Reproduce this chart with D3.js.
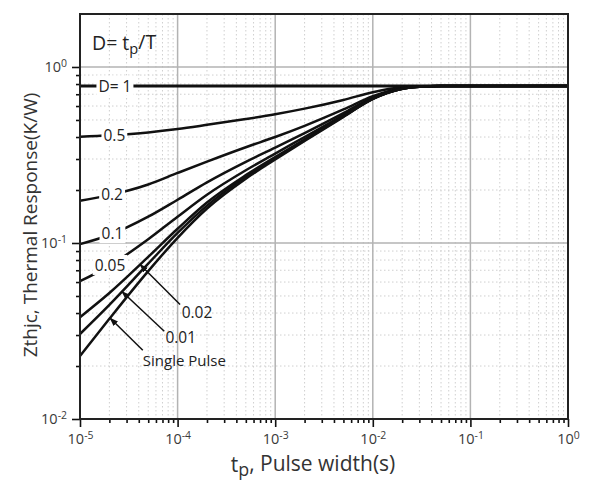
<!DOCTYPE html>
<html>
<head>
<meta charset="utf-8">
<script src="https://cdn.jsdelivr.net/npm/d3@7"></script>
<style>
body{margin:0;background:#fff;}
svg{font-family:"Open Sans",sans-serif;}
</style>
</head>
<body>
<svg id="canvas"></svg>
<script>
let width=592;
let height=485;
let plotLeft=80, plotRight=568, plotTop=14, plotBottom=419;

// pulse width (s) where the curves were read
let pulseWidth=[1e-5,2e-5,5e-5,1e-4,2e-4,5e-4,1e-3,2e-3,5e-3,1e-2,2e-2,3e-2,5e-2,1e-1,1];

// Zthjc (K/W) for every duty cycle
let zD100=[0.78,0.78,0.78,0.78,0.78,0.78,0.78,0.78,0.78,0.78,0.78,0.78,0.78,0.78,0.78];
let zD50=[0.401,0.409,0.425,0.444,0.469,0.506,0.539,0.580,0.650,0.719,0.766,0.777,0.78,0.78,0.78];
let zD20=[0.174,0.187,0.215,0.250,0.290,0.350,0.400,0.463,0.574,0.683,0.758,0.774,0.78,0.78,0.78];
let zD10=[0.0985,0.111,0.141,0.176,0.221,0.289,0.348,0.421,0.547,0.671,0.755,0.774,0.78,0.78,0.78];
let zD05=[0.0607,0.0742,0.105,0.141,0.188,0.259,0.322,0.400,0.533,0.664,0.753,0.773,0.78,0.78,0.78];
let zD02=[0.0379,0.052,0.0834,0.1205,0.170,0.243,0.308,0.388,0.525,0.660,0.753,0.773,0.78,0.78,0.78];
let zD01=[0.0304,0.0445,0.0763,0.114,0.163,0.238,0.303,0.384,0.523,0.659,0.752,0.773,0.78,0.78,0.78];
let zSingle=[0.0228,0.0371,0.0692,0.107,0.157,0.232,0.298,0.380,0.520,0.658,0.752,0.773,0.78,0.78,0.78];

let seriesNames=['D= 1','0.5','0.2','0.1','0.05','0.02','0.01','Single Pulse'];
let seriesValues=[zD100,zD50,zD20,zD10,zD05,zD02,zD01,zSingle];

// inline labels sitting on the curves (pulse width of label centre)
let inlineLabels=['D= 1','0.5','0.2','0.1','0.05'];
let inlineLabelAt=[2.28e-5,2.25e-5,2.13e-5,2.15e-5,2.03e-5];

// labels with leader arrows: tip pulse width, tail [t,z], text [t,z]
let arrowLabels=['0.02','0.01','Single Pulse'];
let arrowTipAt=[4.12e-5,2.69e-5,2.03e-5];
let arrowTail=[[1.06e-4,0.0447],[7.3e-5,0.0315],[4.4e-5,0.0246]];
let arrowText=[[1.1e-4,0.0404],[7.5e-5,0.0292],[4.4e-5,0.0216]];

let xTicks=[1e-5,1e-4,1e-3,1e-2,1e-1,1];
let yTicks=[0.01,0.1,1];

let canvas=d3.select('#canvas')
canvas.attr('width',width)
canvas.attr('height',height)

let xScale=d3.scaleLog()
.domain([1e-5,1])
.range([plotLeft,plotRight])

let yScale=d3.scaleLog()
.domain([0.01,2])
.range([plotBottom,plotTop])

let minorOf=(majors,maxV)=>{
    let out=[]
    majors.forEach((m)=>{
        for(let k=2;k<=9;k++){
            if(m*k<maxV*0.999) out.push(m*k)
        }
    })
    return out
}
let xMinor=minorOf(xTicks.slice(0,-1),1)
let yMinor=minorOf(yTicks,2)

// grid
let grid=canvas.append('g')
grid.selectAll('.vminor').data(xMinor).enter().append('line')
.attr('x1',(d)=>xScale(d)).attr('x2',(d)=>xScale(d))
.attr('y1',plotTop).attr('y2',plotBottom)
.attr('stroke','#cfcfcf').attr('stroke-width',1).attr('stroke-dasharray','1.5,2.5')
grid.selectAll('.hminor').data(yMinor).enter().append('line')
.attr('y1',(d)=>yScale(d)).attr('y2',(d)=>yScale(d))
.attr('x1',plotLeft).attr('x2',plotRight)
.attr('stroke','#cfcfcf').attr('stroke-width',1).attr('stroke-dasharray','1.5,2.5')
grid.selectAll('.vmajor').data(xTicks.slice(1,-1)).enter().append('line')
.attr('x1',(d)=>xScale(d)).attr('x2',(d)=>xScale(d))
.attr('y1',plotTop).attr('y2',plotBottom)
.attr('stroke','#b3b3b3').attr('stroke-width',1.5)
grid.selectAll('.hmajor').data([0.1,1]).enter().append('line')
.attr('y1',(d)=>yScale(d)).attr('y2',(d)=>yScale(d))
.attr('x1',plotLeft).attr('x2',plotRight)
.attr('stroke','#b3b3b3').attr('stroke-width',1.5)

// curves
let line=d3.line()
.x((d)=>xScale(d[0]))
.y((d)=>yScale(d[1]))
.curve(d3.curveMonotoneX)

seriesValues.forEach((vals,i)=>{
    canvas.append('path')
    .datum(pulseWidth.map((t,j)=>[t,vals[j]]))
    .attr('fill','none')
    .attr('stroke','#111')
    .attr('stroke-width',i==0?2.8:2.5)
    .attr('d',line)
})

let zAt=(vals,t)=>{
    let lt=Math.log10(t)
    for(let j=0;j<pulseWidth.length-1;j++){
        let a=Math.log10(pulseWidth[j]), b=Math.log10(pulseWidth[j+1])
        if(lt>=a && lt<=b){
            let f=(lt-a)/(b-a)
            return Math.pow(10,Math.log10(vals[j])+f*(Math.log10(vals[j+1])-Math.log10(vals[j])))
        }
    }
    return vals[vals.length-1]
}

// inline labels with white gap
inlineLabels.forEach((name,i)=>{
    let vals=seriesValues[seriesNames.indexOf(name)]
    let t=inlineLabelAt[i]
    let g=canvas.append('g')
    let txt=g.append('text')
    .attr('x',xScale(t))
    .attr('y',yScale(zAt(vals,t)))
    .attr('dy','0.36em')
    .attr('text-anchor','middle')
    .attr('font-size',15.5)
    .attr('fill','#222')
    .text(name)
    let bb=txt.node().getBBox()
    g.insert('rect','text')
    .attr('x',bb.x-2).attr('y',bb.y+1)
    .attr('width',bb.width+4).attr('height',bb.height-2)
    .attr('fill','#fff')
})

// arrow marker
canvas.append('defs').append('marker')
.attr('id','head')
.attr('viewBox','0 0 10 10')
.attr('refX',9).attr('refY',5)
.attr('markerWidth',9).attr('markerHeight',9)
.attr('markerUnits','userSpaceOnUse')
.attr('orient','auto')
.append('path').attr('d','M0,1.5L10,5L0,8.5Z').attr('fill','#111')

arrowLabels.forEach((name,i)=>{
    let vals=seriesValues[seriesNames.indexOf(name)]
    let tip=arrowTipAt[i]
    canvas.append('line')
    .attr('x1',xScale(arrowTail[i][0])).attr('y1',yScale(arrowTail[i][1]))
    .attr('x2',xScale(tip)).attr('y2',yScale(zAt(vals,tip)))
    .attr('stroke','#111').attr('stroke-width',1.5)
    .attr('marker-end','url(#head)')
    canvas.append('text')
    .attr('x',xScale(arrowText[i][0]))
    .attr('y',yScale(arrowText[i][1]))
    .attr('dy','0.36em')
    .attr('font-size',name=='Single Pulse'?15:15.5)
    .attr('fill','#222')
    .text(name)
})

// axes
let powLabel=(sel)=>{
    sel.selectAll('.tick text').each(function(d){
        let t=d3.select(this)
        t.text(null)
        t.append('tspan').text('10')
        t.append('tspan').attr('dy','-0.5em').attr('font-size','0.72em').text(Math.round(Math.log10(d)))
    })
}

let xAxis=d3.axisBottom(xScale).tickValues(xTicks).tickSize(8).tickPadding(7)
let xg=canvas.append('g')
.attr('transform','translate(0,'+plotBottom+')')
.call(xAxis)
xg.call(powLabel)
canvas.append('g')
.attr('transform','translate(0,'+plotBottom+')')
.call(d3.axisBottom(xScale).tickValues(xMinor).tickSize(4).tickFormat(''))

let yAxis=d3.axisLeft(yScale).tickValues(yTicks).tickSize(8).tickPadding(5)
let yg=canvas.append('g')
.attr('transform','translate('+plotLeft+',0)')
.call(yAxis)
yg.call(powLabel)
canvas.append('g')
.attr('transform','translate('+plotLeft+',0)')
.call(d3.axisLeft(yScale).tickValues(yMinor).tickSize(4).tickFormat(''))

canvas.selectAll('.domain').remove()
canvas.selectAll('.tick line').attr('stroke','#111').attr('stroke-width',1.6)
canvas.selectAll('.tick text').attr('font-size',14.5).attr('fill','#3a3a3a').attr('font-family','"Open Sans",sans-serif')

// frame
canvas.append('rect')
.attr('x',plotLeft).attr('y',plotTop)
.attr('width',plotRight-plotLeft).attr('height',plotBottom-plotTop)
.attr('fill','none').attr('stroke','#222').attr('stroke-width',2)

// D = tp/T note
let note=canvas.append('text')
.attr('x',92).attr('y',50)
.attr('font-size',19.5).attr('fill','#222')
note.append('tspan').text('D= t')
note.append('tspan').attr('dy','0.3em').attr('font-size','0.75em').text('p')
note.append('tspan').attr('dy','-0.3em').text('/T')

// axis titles
let xt=canvas.append('text')
.attr('x',313).attr('y',472)
.attr('text-anchor','middle')
.attr('font-size',21).attr('fill','#333')
xt.append('tspan').text('t')
xt.append('tspan').attr('dy','0.25em').attr('font-size','0.85em').text('p')
xt.append('tspan').attr('dy','-0.25em').text(', Pulse width(s)')

canvas.append('text')
.attr('transform','translate(37,225) rotate(-90)')
.attr('text-anchor','middle')
.attr('font-size',19).attr('fill','#333')
.text('Zthjc, Thermal Response(K/W)')
</script>
</body>
</html>
